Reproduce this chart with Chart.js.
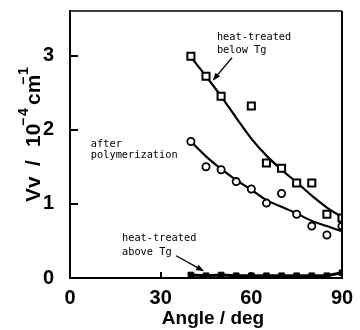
<!DOCTYPE html>
<html>
<head>
<meta charset="utf-8">
<script src="https://cdn.jsdelivr.net/npm/chart.js@4.4.1/dist/chart.umd.min.js"></script>
<style>
  html, body { margin: 0; padding: 0; background: #fff; }
  #wrap { width: 360px; height: 330px; position: relative; }
</style>
</head>
<body>
<div id="wrap"><canvas id="chart"></canvas></div>
<script>
// measured points
const angleBelow = [40, 45, 50, 60, 65, 70, 75, 80, 85, 90];
const vvBelow = [2.99, 2.72, 2.45, 2.32, 1.55, 1.48, 1.28, 1.28, 0.86, 0.81];

const angleAfter = [40, 45, 50, 55, 60, 65, 70, 75, 80, 85, 90];
const vvAfter = [1.84, 1.50, 1.46, 1.30, 1.20, 1.01, 1.14, 0.86, 0.70, 0.58, 0.70];

const angleAbove = [40, 45, 50, 55, 60, 65, 70, 75, 80, 85, 90];
const vvAbove = [0.04, 0.03, 0.04, 0.03, 0.03, 0.03, 0.03, 0.03, 0.03, 0.03, 0.07];

// fitted curves
const fitAngles = [40, 45, 50, 55, 60, 65, 70, 75, 80, 85, 90];
const fitBelow = [2.98, 2.72, 2.45, 2.16, 1.88, 1.65, 1.46, 1.29, 1.11, 0.95, 0.82];
const fitAfter = [1.84, 1.64, 1.47, 1.32, 1.19, 1.05, 0.96, 0.87, 0.77, 0.70, 0.63];

const xTicks = [0, 30, 60, 90];
const yTicks = [0, 1, 2, 3];

const pts = (xs, ys) => xs.map((x, i) => ({ x, y: ys[i] }));

const MONO = "10.3px 'DejaVu Sans Mono', monospace";

// annotations in data units
const notes = [
  { lines: ["heat-treated", "below Tg"], x: 48.6, y: 3.24, dy: 0.175 },
  { lines: ["after", "polymerization"], x: 6.9, y: 1.80, dy: 0.15 },
  { lines: ["heat-treated", "above Tg"], x: 17.2, y: 0.53, dy: 0.19 },
];
const arrows = [
  { from: [53.6, 2.97], to: [47.2, 2.66] },
  { from: [35.1, 0.30], to: [44.4, 0.09] },
];

const decorations = {
  id: "decorations",
  afterDraw(chart) {
    const { ctx, chartArea: a, scales } = chart;
    const sx = scales.x, sy = scales.y;
    ctx.save();

    // frame top and right
    ctx.strokeStyle = "#000";
    ctx.lineWidth = 1.5;
    ctx.beginPath();
    ctx.moveTo(a.left, a.top);
    ctx.lineTo(a.right, a.top);
    ctx.stroke();
    ctx.lineWidth = 2;
    ctx.beginPath();
    ctx.moveTo(a.right, a.top);
    ctx.lineTo(a.right, a.bottom);
    ctx.stroke();

    // inward ticks
    ctx.lineWidth = 2;
    yTicks.slice(1).forEach((v) => {
      const py = Math.round(sy.getPixelForValue(v));
      ctx.beginPath();
      ctx.moveTo(a.left, py);
      ctx.lineTo(a.left + 8, py);
      ctx.stroke();
    });
    xTicks.slice(1, -1).forEach((v) => {
      const px = Math.round(sx.getPixelForValue(v));
      ctx.beginPath();
      ctx.moveTo(px, a.bottom);
      ctx.lineTo(px, a.bottom - 6);
      ctx.stroke();
    });

    // notes
    ctx.fillStyle = "#000";
    ctx.font = MONO;
    ctx.textAlign = "left";
    ctx.textBaseline = "middle";
    notes.forEach((n) => {
      n.lines.forEach((t, i) => {
        ctx.fillText(t, sx.getPixelForValue(n.x), sy.getPixelForValue(n.y - i * n.dy));
      });
    });

    // arrows
    ctx.lineWidth = 1.3;
    arrows.forEach((ar) => {
      const x1 = sx.getPixelForValue(ar.from[0]), y1 = sy.getPixelForValue(ar.from[1]);
      const x2 = sx.getPixelForValue(ar.to[0]), y2 = sy.getPixelForValue(ar.to[1]);
      const ang = Math.atan2(y2 - y1, x2 - x1);
      ctx.beginPath();
      ctx.moveTo(x1, y1);
      ctx.lineTo(x2 - 5 * Math.cos(ang), y2 - 5 * Math.sin(ang));
      ctx.stroke();
      ctx.beginPath();
      ctx.moveTo(x2, y2);
      ctx.lineTo(x2 - 8 * Math.cos(ang) + 3 * Math.sin(ang), y2 - 8 * Math.sin(ang) - 3 * Math.cos(ang));
      ctx.lineTo(x2 - 8 * Math.cos(ang) - 3 * Math.sin(ang), y2 - 8 * Math.sin(ang) + 3 * Math.cos(ang));
      ctx.closePath();
      ctx.fill();
    });

    // y title with superscripts
    ctx.translate(40, 202);
    ctx.rotate(-Math.PI / 2);
    ctx.textBaseline = "alphabetic";
    const big = "bold 21px 'Liberation Sans', Arial, sans-serif";
    const sup = "bold 14px 'Liberation Sans', Arial, sans-serif";
    ctx.font = big;
    ctx.fillText("Vv", 0, 0);
    ctx.fillText("/", 36, 0);
    ctx.fillText("10", 55, 0);
    ctx.fillText("cm", 97, 0);
    ctx.font = sup;
    ctx.fillText("\u2212", 76, -12);
    ctx.fillText("4", 86, -12);
    ctx.fillText("\u2212", 117, -12);
    ctx.fillText("1", 127, -12);

    ctx.restore();

    // x title
    ctx.save();
    ctx.font = "bold 19px 'Liberation Sans', Arial, sans-serif";
    ctx.fillStyle = "#000";
    ctx.textAlign = "center";
    ctx.textBaseline = "middle";
    ctx.fillText("Angle / deg", 213, 319);
    ctx.restore();
  },
};

const tickFont = { family: "'Liberation Sans', Arial, sans-serif", size: 20, weight: "bold" };

new Chart(document.getElementById("chart"), {
  type: "scatter",
  data: {
    datasets: [
      {
        label: "heat-treated below Tg",
        data: pts(angleBelow, vvBelow),
        pointStyle: "rect",
        pointRadius: 5,
        pointBorderWidth: 2,
        pointBorderColor: "#000",
        pointBackgroundColor: "#fff",
      },
      {
        label: "after polymerization",
        data: pts(angleAfter, vvAfter),
        pointStyle: "circle",
        pointRadius: 3.6,
        pointBorderWidth: 1.8,
        pointBorderColor: "#000",
        pointBackgroundColor: "#fff",
      },
      {
        label: "heat-treated above Tg",
        data: pts(angleAbove, vvAbove),
        showLine: true,
        borderColor: "#000",
        borderWidth: 3,
        pointStyle: "rect",
        pointRadius: 4,
        pointBorderWidth: 1,
        pointBorderColor: "#000",
        pointBackgroundColor: "#000",
      },
      {
        label: "fit below",
        data: pts(fitAngles, fitBelow),
        showLine: true,
        cubicInterpolationMode: "monotone",
        borderColor: "#000",
        borderWidth: 2.2,
        pointRadius: 0,
      },
      {
        label: "fit after",
        data: pts(fitAngles, fitAfter),
        showLine: true,
        cubicInterpolationMode: "monotone",
        borderColor: "#000",
        borderWidth: 2.2,
        pointRadius: 0,
      },
    ],
  },
  options: {
    responsive: true,
    maintainAspectRatio: false,
    animation: false,
    layout: { padding: { top: 11, right: 18, left: 0, bottom: 0 } },
    plugins: {
      legend: { display: false },
      tooltip: { enabled: false },
    },
    scales: {
      x: {
        type: "linear",
        min: 0,
        max: 90,
        afterBuildTicks: (s) => { s.ticks = xTicks.map((value) => ({ value })); },
        afterFit: (s) => { s.height = 52; s.paddingLeft = 0; s.paddingRight = 0; },
        grid: { display: false },
        border: { display: true, color: "#000", width: 2 },
        ticks: { color: "#000", font: tickFont, padding: 0, maxRotation: 0 },
      },
      y: {
        type: "linear",
        min: 0,
        max: 3.6,
        afterBuildTicks: (s) => { s.ticks = yTicks.map((value) => ({ value })); },
        afterFit: (s) => { s.width = 70; s.paddingTop = 0; s.paddingBottom = 0; },
        grid: { display: false },
        border: { display: true, color: "#000", width: 2 },
        ticks: { color: "#000", font: tickFont, padding: 8 },
      },
    },
  },
  plugins: [decorations],
});
</script>
</body>
</html>
